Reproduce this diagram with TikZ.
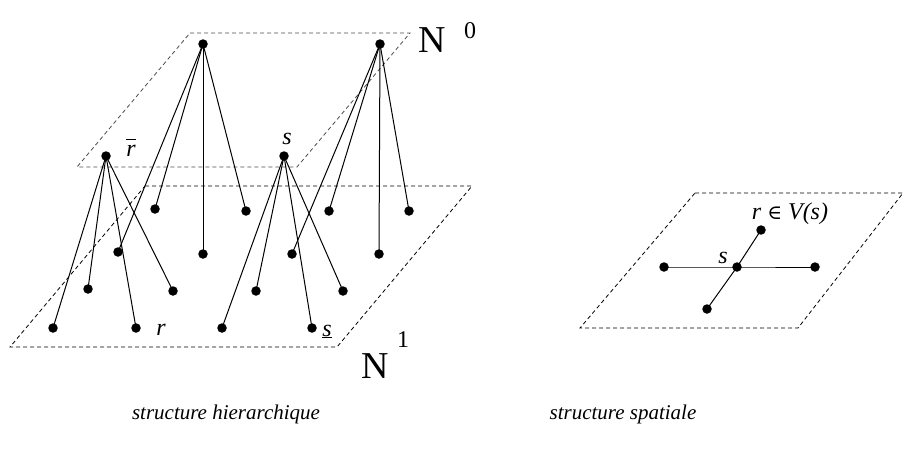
\documentclass[tikz,border=0pt]{standalone}
\usepackage{fontspec}
\setmainfont{Liberation Serif}
\newfontfamily\symfont{DejaVu Serif}
\begin{document}
\begin{tikzpicture}[x=1pt,y=-1pt,
  dot/.style={circle,fill=black,inner sep=0pt,minimum size=9.5pt},
  plane/.style={draw=black,line width=0.8pt,dash pattern=on 4pt off 3pt},
  toplane/.style={plane,draw=black!70},
  link/.style={line width=1pt},
  lbl/.style={font=\fontsize{24}{28}\selectfont\itshape,inner sep=0pt,anchor=base},
  captext/.style={font=\fontsize{21}{25}\selectfont\itshape,inner sep=0pt,anchor=base},
  bigN/.style={font=\fontsize{38}{40}\selectfont,inner sep=0pt,anchor=base},
  supN/.style={font=\fontsize{24}{26}\selectfont,inner sep=0pt,anchor=base}
]
\useasboundingbox (0,0) rectangle (907,458);

% planes
\draw[toplane] (190,33) -- (410,33) -- (297,167) -- (77,167) -- cycle;
\draw[plane] (145,186) -- (472,186) -- (337,347) -- (10,347) -- cycle;
\draw[plane] (695,193) -- (903,193) -- (798,328) -- (580,328) -- cycle;

% top level nodes
\node[dot] (A) at (203,44) {};
\node[dot] (B) at (380,44) {};
\node[dot] (R) at (106,156) {};
\node[dot] (S) at (284,156) {};

% bottom level nodes
\node[dot] (b11) at (155,209) {};
\node[dot] (b12) at (246,211) {};
\node[dot] (b13) at (329,211) {};
\node[dot] (b14) at (409,211) {};
\node[dot] (b21) at (118,252) {};
\node[dot] (b22) at (203,254) {};
\node[dot] (b23) at (292,254) {};
\node[dot] (b24) at (379,254) {};
\node[dot] (b31) at (88,289) {};
\node[dot] (b32) at (173,291) {};
\node[dot] (b33) at (256,291) {};
\node[dot] (b34) at (343,291) {};
\node[dot] (b41) at (53,328) {};
\node[dot] (b42) at (136,328) {};
\node[dot] (b43) at (222,328) {};
\node[dot] (b44) at (312,328) {};

% links
\foreach \t in {b11,b12,b21,b22} \draw[link] (A.center) -- (\t.center);
\foreach \t in {b13,b14,b23,b24} \draw[link] (B.center) -- (\t.center);
\foreach \t in {b31,b32,b41,b42} \draw[link] (R.center) -- (\t.center);
\foreach \t in {b33,b34,b43,b44} \draw[link] (S.center) -- (\t.center);

% spatial structure
\node[dot] (c) at (737,267) {};
\node[dot] (cl) at (664,267) {};
\node[dot] (cr) at (815,267) {};
\node[dot] (cu) at (761,230) {};
\node[dot] (cd) at (707,309) {};
\draw[link] (cl.center) -- (c.center) -- (cr.center);
\draw[link] (cd.center) -- (c.center) -- (cu.center);

% labels
\node[lbl] (lrbar) at (131,156) {$\overline{\mbox{\itshape r\rule{0pt}{15pt}}}$};
\node[lbl] (ls) at (287,144) {s};
\node[lbl] (lr) at (161,335) {r};
\node[lbl] (lsu) at (327,336) {\underline{s}};
\node[lbl] (ls2) at (723,263) {s};
\node[lbl] (lrv) at (790,219) {r {\symfont\fontsize{20}{22}\selectfont ∈} V(s)};

\node[bigN] (N0) at (432,52) {N};
\node[supN] (N0s) at (470,38) {0};
\node[bigN] (N1) at (375,378) {N};
\node[supN] (N1s) at (403,347) {1};

% captions
\node[captext] (cap1) at (226,419) {structure hierarchique};
\node[captext] (cap2) at (623,419) {structure spatiale};
\end{tikzpicture}
\end{document}
